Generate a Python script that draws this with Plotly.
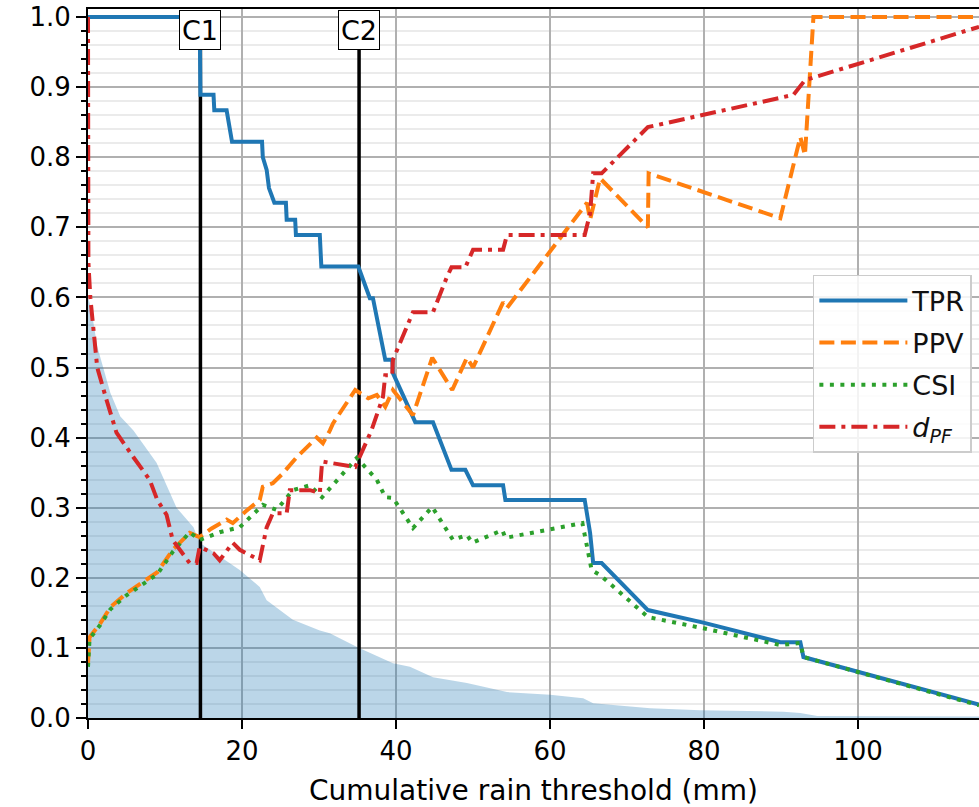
import plotly.graph_objects as go

# ---------------- data ----------------
fill_x = [0, 0.4, 1.2, 2.9, 4.2, 5.9, 8.9, 11.5, 13.7, 14.5, 19.7, 22.3, 23.2, 26.6, 30.1, 31.4,
          35.0, 39.6, 41.8, 44.8, 49.2, 54.4, 60.0, 64.3, 65.6, 73.0, 79.5, 90.3, 92.5, 94.7, 115.7]
fill_y = [0.60, 0.585, 0.53, 0.464, 0.43, 0.41, 0.364, 0.30, 0.272, 0.25, 0.211, 0.187, 0.168, 0.14,
          0.125, 0.121, 0.101, 0.078, 0.073, 0.058, 0.05, 0.037, 0.033, 0.028, 0.021, 0.014, 0.011,
          0.009, 0.007, 0.003, 0.002]

tpr_x = [0, 14.5, 14.6, 16.3, 16.4, 18.0, 18.7, 22.6, 22.7, 23.2, 23.5, 24.2, 25.7, 25.8, 26.9, 27.0,
         30.1, 30.3, 35.1, 36.6, 37.0, 38.3, 38.6, 39.5, 39.6, 42.5, 44.8, 47.2, 49.0, 50.0, 53.9,
         54.2, 64.5, 65.2, 65.6, 66.7, 72.7, 79.9, 89.9, 92.5, 92.9, 115.7]
tpr_y = [1.0, 1.0, 0.889, 0.889, 0.867, 0.867, 0.822, 0.822, 0.80, 0.782, 0.756, 0.735, 0.735, 0.711,
         0.711, 0.689, 0.689, 0.644, 0.644, 0.599, 0.599, 0.529, 0.511, 0.511, 0.492, 0.422, 0.422,
         0.354, 0.354, 0.332, 0.332, 0.311, 0.311, 0.264, 0.221, 0.221, 0.154, 0.136, 0.108, 0.108,
         0.087, 0.019]

ppv_x = [0, 0.2, 1.6, 2.9, 5.0, 7.0, 9.0, 11.0, 13.2, 14.5, 16.0, 18.0, 18.8, 20.5, 22.3, 22.7, 24.0,
         25.3, 27.1, 29.7, 30.5, 31.4, 31.8, 34.7, 36.4, 37.5, 38.6, 39.6, 42.2, 44.7, 47.3, 49.2,
         50.0, 53.9, 54.4, 64.8, 65.2, 66.5, 72.7, 72.8, 89.9, 92.5, 93.1, 94.2, 115.7]
ppv_y = [0.078, 0.115, 0.135, 0.158, 0.178, 0.193, 0.208, 0.24, 0.264, 0.258, 0.27, 0.283, 0.278,
         0.295, 0.311, 0.33, 0.335, 0.349, 0.372, 0.40, 0.392, 0.41, 0.42, 0.468, 0.456, 0.461, 0.444,
         0.468, 0.432, 0.514, 0.468, 0.514, 0.50, 0.593, 0.585, 0.735, 0.711, 0.770, 0.70, 0.777,
         0.713, 0.829, 0.803, 1.0, 1.0]

csi_x = [0, 0.2, 1.6, 2.9, 5.0, 7.0, 9.0, 11.0, 13.2, 14.5, 17.1, 19.7, 22.3, 22.7, 24.5, 26.6, 28.8,
         30.4, 34.9, 36.6, 37.5, 38.6, 39.6, 42.2, 44.7, 47.4, 49.2, 49.9, 53.8, 54.2, 64.2, 65.4,
         66.5, 72.7, 79.9, 89.9, 92.5, 92.9, 115.7]
csi_y = [0.073, 0.113, 0.133, 0.155, 0.175, 0.19, 0.205, 0.237, 0.265, 0.254, 0.265, 0.272, 0.30,
         0.304, 0.297, 0.325, 0.332, 0.315, 0.371, 0.351, 0.34, 0.315, 0.314, 0.271, 0.301, 0.254,
         0.261, 0.25, 0.268, 0.257, 0.278, 0.211, 0.204, 0.144, 0.128, 0.104, 0.107, 0.087, 0.018]

dpf_x = [0, 0.05, 0.3, 1.2, 2.4, 3.7, 5.9, 8.0, 9.0, 10.2, 11.0, 13.2, 14.1, 14.5, 16.3, 17.1, 18.8,
         19.7, 22.3, 23.2, 24.0, 25.8, 26.2, 28.8, 30.1, 30.4, 34.7, 35.5, 36.8, 38.3, 38.6, 39.5,
         39.6, 42.2, 44.8, 46.6, 47.2, 49.0, 50.0, 53.9, 54.4, 64.5, 65.2, 65.6, 66.7, 72.7, 89.9,
         91.6, 93.1, 115.7]
dpf_y = [1.0, 0.65, 0.60, 0.50, 0.454, 0.407, 0.372, 0.34, 0.311, 0.29, 0.254, 0.221, 0.221, 0.244,
         0.235, 0.225, 0.25, 0.24, 0.225, 0.272, 0.292, 0.292, 0.325, 0.325, 0.321, 0.366, 0.358,
         0.378, 0.41, 0.458, 0.489, 0.489, 0.511, 0.579, 0.579, 0.629, 0.643, 0.643, 0.668, 0.668,
         0.689, 0.689, 0.72, 0.777, 0.777, 0.843, 0.886, 0.889, 0.91, 0.986]

cut_names = ["C1", "C2"]
cut_x = [14.6, 35.2]
cut_top = 0.953

# ---------------- figure ----------------
FONT = "DejaVu Sans"
fig = go.Figure()

fig.add_trace(go.Scatter(x=fill_x, y=fill_y, mode="lines", fill="tozeroy",
                         fillcolor="rgba(31,119,180,0.3)", line=dict(width=0),
                         showlegend=False, hoverinfo="skip"))

for cx in cut_x:
    fig.add_trace(go.Scatter(x=[cx, cx], y=[0, cut_top], mode="lines",
                             line=dict(color="black", width=3.5), showlegend=False))

fig.add_trace(go.Scatter(x=tpr_x, y=tpr_y, mode="lines", name="TPR", legendgroup="a",
                         line=dict(color="#1f77b4", width=4)))
fig.add_trace(go.Scatter(x=ppv_x, y=ppv_y, mode="lines", name="PPV", legendgroup="b",
                         line=dict(color="#ff7f0e", width=4, dash="15px,6.5px")))
fig.add_trace(go.Scatter(x=csi_x, y=csi_y, mode="lines", name="CSI", legendgroup="c",
                         line=dict(color="#2ca02c", width=4, dash="4px,6.5px")))
fig.add_trace(go.Scatter(x=dpf_x, y=dpf_y, mode="lines", name="<i>d</i><sub><i>PF</i></sub>",
                         legendgroup="d",
                         line=dict(color="#d62728", width=4, dash="16px,6px,4px,6px")))

for name, cx in zip(cut_names, cut_x):
    fig.add_annotation(x=cx, y=cut_top, xref="x", yref="y", text=name, showarrow=False,
                       yanchor="bottom", width=40, height=38, borderpad=0,
                       bgcolor="white", bordercolor="black", borderwidth=1,
                       font=dict(family=FONT, size=27, color="black"))

fig.update_layout(
    width=979, height=807,
    margin=dict(l=88, r=0, t=9, b=89),
    plot_bgcolor="white", paper_bgcolor="white",
    font=dict(family=FONT, size=26, color="black"),
    legend=dict(x=0.992, xanchor="right", y=0.625, yanchor="top", tracegroupgap=4,
                itemwidth=88,
                bgcolor="rgba(255,255,255,0.85)", bordercolor="#cccccc", borderwidth=1.5,
                font=dict(family=FONT, size=27, color="#111")),
    xaxis=dict(range=[0, 115.7], dtick=20, tick0=0, showgrid=True, gridcolor="#b0b0b0",
               gridwidth=1.5, showline=True, linecolor="black", linewidth=2, mirror=True,
               ticks="outside", ticklen=9, tickwidth=2, tickcolor="black", zeroline=False,
               title=dict(text="Cumulative rain threshold (mm)", standoff=18,
                          font=dict(family=FONT, size=28))),
    yaxis=dict(range=[0, 1.0115], dtick=0.1, tick0=0, tickformat=".1f", showgrid=True,
               gridcolor="#b0b0b0", gridwidth=1.5, showline=True, linecolor="black",
               linewidth=2, ticks="outside", ticklen=10, tickwidth=2, tickcolor="black",
               zeroline=False, ticklabeloverflow="allow",
               minor=dict(dtick=0.02, tick0=0, showgrid=True, gridcolor="#ebebeb", gridwidth=1.5,
                          ticks="outside", ticklen=5, tickwidth=1.5, tickcolor="black")),
)

fig.write_html("out.html", config={"displayModeBar": False},
               post_script="document.body.style.margin='0';document.body.style.overflow='hidden';")
